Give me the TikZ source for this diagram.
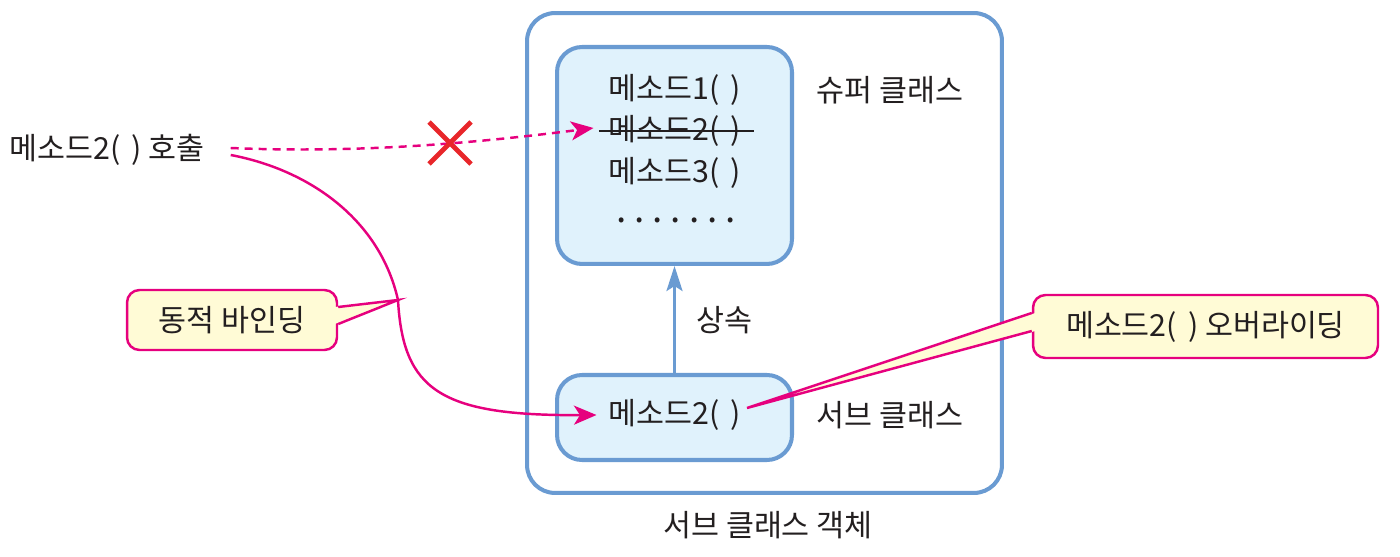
\documentclass[tikz,border=0pt]{standalone}
\usepackage{fontspec}
\setmainfont{Noto Sans CJK KR}
\usetikzlibrary{arrows.meta}

\definecolor{frameblue}{HTML}{6A9BD2}
\definecolor{boxfill}{HTML}{E0F2FC}
\definecolor{bindpink}{HTML}{E6007E}
\definecolor{xred}{HTML}{E8262A}
\definecolor{notefill}{HTML}{FFFBD6}
\definecolor{ink}{HTML}{231F20}

\newcommand{\noargs}{(\hspace{0.22cm})}

\begin{document}
\begin{tikzpicture}[
        x=0.02cm, y=-0.02cm,
        font=\fontsize{17.3}{20}\selectfont, text=ink,
        cls/.style={draw=frameblue, line width=2.3pt, fill=boxfill, rounded corners=0.5cm, minimum width=4.7cm},
        txt/.style={inner sep=2pt},
        note/.style={draw=bindpink, line width=1.4pt, fill=notefill, rounded corners=0.25cm},
        bind/.style={bindpink, line width=1.4pt, -{Stealth[length=0.45cm,width=0.38cm,inset=0.12cm]}},
        inh/.style={frameblue, line width=1.7pt, -{Stealth[length=0.5cm,width=0.32cm,inset=0.1cm]}}
      ]
        \useasboundingbox (0,0) rectangle (1400,557);

        \node[draw=frameblue, line width=2.3pt, rounded corners=0.56cm, minimum width=9.5cm, minimum height=9.6cm] (obj) at (764.5,253) {};
        \node[cls, minimum height=4.34cm] (super) at (674.5,155.5) {};
        \node[cls, minimum height=1.7cm] (sub) at (674.5,417.5) {};

        \node[txt] (m1) at (675,90) {메소드1\noargs};
        \node[txt] (m2) at (675,131) {메소드2\noargs};
        \node[txt] (m3) at (675,173) {메소드3\noargs};
        \node[txt] (dots) at (676,220) {\fontsize{21}{20}\selectfont.\hspace{0.16cm}.\hspace{0.16cm}.\hspace{0.16cm}.\hspace{0.16cm}.\hspace{0.16cm}.\hspace{0.16cm}.};
        \draw[ink, line width=1.6pt] ([xshift=-0.12cm]m2.west) -- ([xshift=0.18cm]m2.east);
        \node[txt] (ms) at (675,415) {메소드2\noargs};

        \node (superlbl) at (890,90) {슈퍼 클래스};
        \node (sublbl) at (890,415) {서브 클래스};
        \node (objlbl) at (768,525) {서브 클래스 객체};
        \node (inhlbl) at (724,320) {상속};
        \node (call) at (107,150) {메소드2\noargs{} 호출};

        \draw[inh] (sub.north) -- (super.south);

        % 호출 -> 슈퍼 클래스 (불가)
        \draw[bind, dash pattern=on 0.16cm off 0.12cm] ([xshift=0.4cm,yshift=0.04cm]call.east)
          .. controls (350,153) and (460,145) .. ([xshift=-0.23cm,yshift=0.06cm]m2.west);
        \draw[xred, line width=2.8pt] (429,122) -- (471,164) (471,122) -- (429,164);

        % 동적 바인딩
        \coordinate (bindtip) at (398,300);
        \draw[bind] ([xshift=0.4cm,yshift=-0.1cm]call.east)
          .. controls (310,170) and (380,220) .. (bindtip)
          .. controls (403,390) and (440,416) .. ([xshift=-0.17cm]ms.west);

        % 말풍선
        \node[note, minimum width=4.2cm, minimum height=1.2cm] (bindnote) at (232,320) {동적 바인딩};
        \fill[notefill] ([xshift=-2pt,yshift=0.26cm]bindnote.east) -- (bindtip) -- ([xshift=-2pt,yshift=-0.08cm]bindnote.east) -- cycle;
        \draw[bindpink, line width=1.4pt] ([yshift=0.26cm]bindnote.east) -- (bindtip) -- ([yshift=-0.08cm]bindnote.east);

        \node[note, minimum width=6.9cm, minimum height=1.26cm] (overnote) at (1205.5,326.5) {메소드2\noargs{} 오버라이딩};
        \coordinate (overtip) at ([xshift=0.04cm,yshift=0.14cm]ms.east);
        \fill[notefill] ([xshift=2pt,yshift=0.27cm]overnote.west) -- (overtip) -- ([xshift=2pt,yshift=-0.09cm]overnote.west) -- cycle;
        \draw[bindpink, line width=1.4pt] ([yshift=0.27cm]overnote.west) -- (overtip) -- ([yshift=-0.09cm]overnote.west);
      \end{tikzpicture}
\end{document}
